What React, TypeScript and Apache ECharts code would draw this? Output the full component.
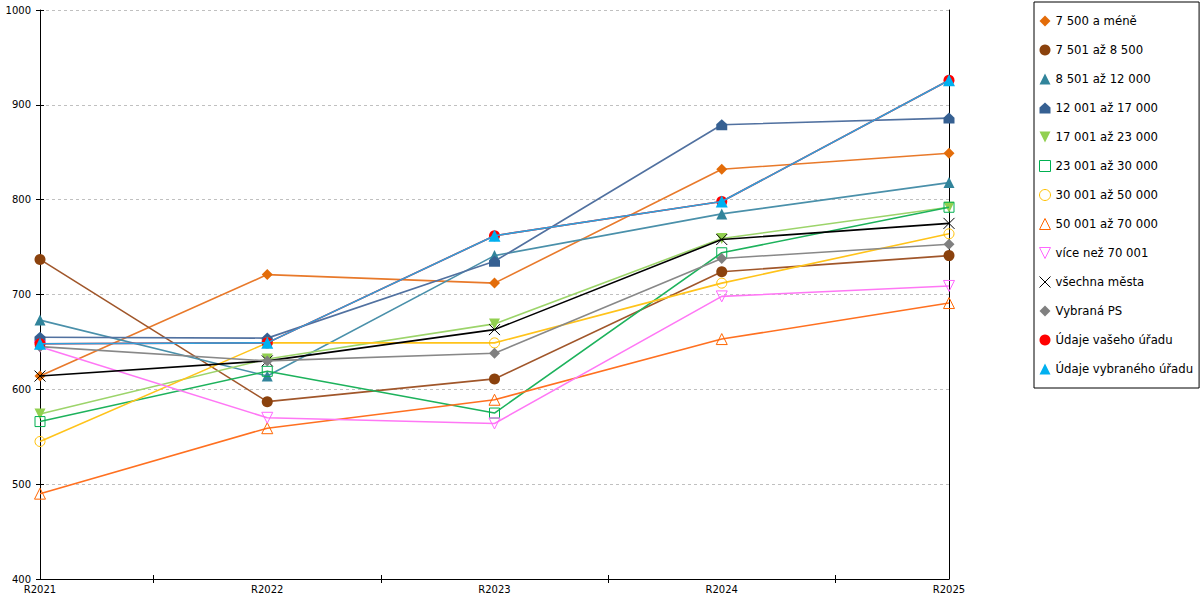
import React, { useEffect, useRef } from "react";
import * as echarts from "echarts";

const categories = ["R2021", "R2022", "R2023", "R2024", "R2025"];
const yTicks = { min: 400, max: 1000, interval: 100 };

const s7500 = [614, 721, 712, 832, 849];
const s8500 = [737, 587, 611, 724, 741];
const s12000 = [673, 614, 741, 785, 818];
const s17000 = [655, 654, 735, 879, 886];
const s23000 = [574, 632, 669, 759, 792];
const s30000 = [566, 619, 575, 744, 792];
const s50000 = [545, 649, 649, 712, 764];
const s70000 = [490, 559, 589, 653, 691];
const sOver70 = [645, 570, 564, 698, 709];
const sAll = [614, 630, 663, 758, 775];
const sPS = [645, 630, 638, 738, 753];
const sYour = [648, 649, 762, 798, 926];
const sSelected = [648, 649, 762, 798, 926];

const names = [
  "7 500 a méně",
  "7 501 až 8 500",
  "8 501 až 12 000",
  "12 001 až 17 000",
  "17 001 až 23 000",
  "23 001 až 30 000",
  "30 001 až 50 000",
  "50 001 až 70 000",
  "více než 70 001",
  "všechna města",
  "Vybraná PS",
  "Údaje vašeho úřadu",
  "Údaje vybraného úřadu",
];

const HOUSE = "path://M5,0 L10,4.6 L10,10 L0,10 L0,4.6 Z";
const CROSS = "path://M0,0 L10,10 M10,0 L0,10";
const DOWN = "path://M0,0 L10,0 L5,10 Z";

type Spec = {
  data: number[];
  symbol: string;
  size: number;
  marker: string;
  line: string;
  hollow?: boolean;
  cross?: boolean;
};

const specs: Spec[] = [
  { data: s7500, symbol: "diamond", size: 11, marker: "#E36C09", line: "#E8792A" },
  { data: s8500, symbol: "circle", size: 11, marker: "#8B420D", line: "#A0562A" },
  { data: s12000, symbol: "triangle", size: 11, marker: "#31849B", line: "#4A90AA" },
  { data: s17000, symbol: HOUSE, size: 11, marker: "#366092", line: "#5171A0" },
  { data: s23000, symbol: DOWN, size: 11, marker: "#92D050", line: "#9CD46A" },
  { data: s30000, symbol: "rect", size: 10, marker: "#00B050", line: "#1DB25C", hollow: true },
  { data: s50000, symbol: "circle", size: 10, marker: "#FFC000", line: "#FFC31A", hollow: true },
  { data: s70000, symbol: "triangle", size: 11, marker: "#FF6600", line: "#FF7020", hollow: true },
  { data: sOver70, symbol: DOWN, size: 11, marker: "#FF66FF", line: "#FF77F5", hollow: true },
  { data: sAll, symbol: CROSS, size: 11, marker: "#000000", line: "#000000", cross: true },
  { data: sPS, symbol: "diamond", size: 11, marker: "#808080", line: "#888888" },
  { data: sYour, symbol: "circle", size: 11, marker: "#FF0000", line: "#FF0000" },
  { data: sSelected, symbol: "triangle", size: 12, marker: "#00B0F0", line: "#2FA0DC" },
];

function markerStyle(s: Spec) {
  if (s.cross || s.hollow) return { color: "transparent", borderColor: s.marker, borderWidth: 1 };
  return { color: s.marker, borderWidth: 0 };
}

export default function App() {
  const ref = useRef<HTMLDivElement>(null);
  useEffect(() => {
    if (!ref.current) return;
    const chart = echarts.init(ref.current, null, { renderer: "svg" });
    const font = "DejaVu Sans";
    const series = specs.map((s, i) => ({
      name: names[i],
      type: "line",
      xAxisIndex: 0,
      yAxisIndex: 0,
      data: s.data,
      symbol: s.symbol,
      symbolSize: s.size,
      showAllSymbol: true,
      lineStyle: { color: s.line, width: 1.6 },
      itemStyle: markerStyle(s),
      emphasis: { disabled: true },
      z: 2 + i,
    }));
    const legendData = specs.map((s, i) => ({
      name: names[i],
      icon: s.symbol,
      itemStyle: markerStyle(s),
    }));
    const dummy = ["", "", "", ""];
    chart.setOption({
      animation: false,
      textStyle: { fontFamily: font },
      grid: { left: 40, right: 251, top: 10, bottom: 21, containLabel: false },
      legend: {
        orient: "vertical",
        left: 1034,
        top: 2,
        width: 160,
        padding: [13, 6, 13, 5],
        itemWidth: 11,
        itemHeight: 11,
        itemGap: 17,
        borderColor: "#000",
        borderWidth: 1,
        backgroundColor: "#fff",
        selectedMode: false,
        textStyle: { fontFamily: font, fontSize: 11.7, color: "#000", padding: [0, 0, 0, 0] },
        data: legendData,
      },
      xAxis: [
        {
          type: "category",
          data: categories,
          boundaryGap: false,
          axisLine: { lineStyle: { color: "#000", width: 1 } },
          axisTick: { show: false },
          axisLabel: { color: "#000", fontSize: 10, fontFamily: font, margin: 5, interval: 0 },
          splitLine: { show: false },
        },
        {
          type: "category",
          data: dummy,
          boundaryGap: true,
          position: "bottom",
          axisLine: { show: false },
          axisTick: { show: true, alignWithLabel: true, interval: 0, length: 4, lineStyle: { color: "#000" } },
          axisLabel: { show: false },
          splitLine: { show: false },
        },
        {
          type: "category",
          data: dummy,
          boundaryGap: true,
          position: "bottom",
          axisLine: { show: false },
          axisTick: { show: true, inside: true, alignWithLabel: true, interval: 0, length: 4, lineStyle: { color: "#000" } },
          axisLabel: { show: false },
          splitLine: { show: false },
        },
      ],
      yAxis: [
        {
          type: "value",
          ...yTicks,
          position: "left",
          axisLine: { show: true, lineStyle: { color: "#000", width: 1 } },
          axisTick: { show: true, length: 4, lineStyle: { color: "#000" } },
          axisLabel: {
            color: "#000",
            fontSize: 10,
            fontFamily: font,
            margin: 9,
            formatter: (v: number) => String(v),
          },
          splitLine: { show: true, lineStyle: { color: "#c0c0c0", type: [3, 3], width: 1 } },
        },
        {
          type: "value",
          ...yTicks,
          position: "left",
          axisLine: { show: false },
          axisTick: { show: true, inside: true, length: 4, lineStyle: { color: "#000" } },
          axisLabel: { show: false },
          splitLine: { show: false },
        },
        {
          type: "value",
          ...yTicks,
          position: "right",
          axisLine: { show: true, lineStyle: { color: "#000", width: 1 } },
          axisTick: { show: false },
          axisLabel: { show: false },
          splitLine: { show: false },
        },
      ],
      series,
    });
    return () => chart.dispose();
  }, []);
  return (
    <div
      ref={ref}
      style={{ position: "fixed", left: 0, top: 0, width: 1200, height: 600, background: "#fff" }}
    />
  );
}
